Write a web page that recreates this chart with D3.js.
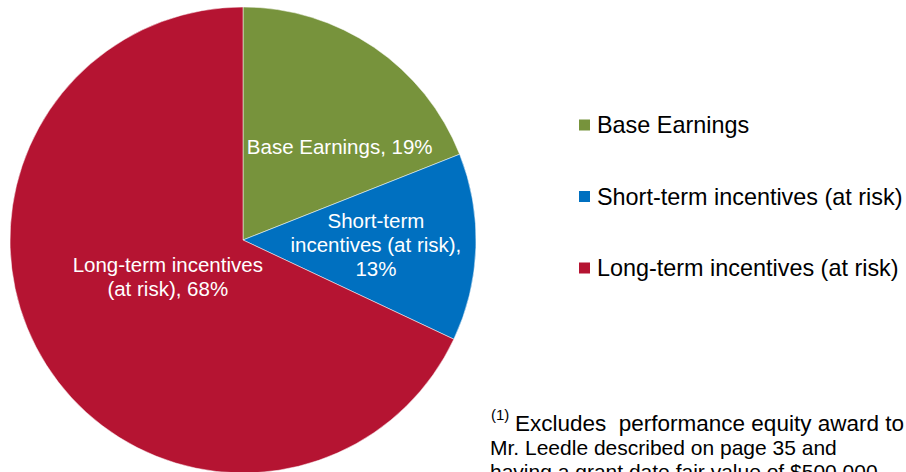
<!DOCTYPE html>
<html lang="en">
<head>
<meta charset="UTF-8">
<title>Compensation Mix</title>
<script src="https://d3js.org/d3.v7.min.js"></script>
<style>
  body { margin: 0; background: #fff; font-family: "Liberation Sans", Arial, sans-serif; }
  text { white-space: pre; }
</style>
</head>
<body>
<div id="chart"></div>
<script>
// Data
const categories = ["Base Earnings", "Short-term incentives (at risk)", "Long-term incentives (at risk)"];
const values = [19, 13, 68];
const colors = ["#77933C", "#0070C0", "#B51432"];
const sliceLabels = [
  ["Base Earnings, 19%"],
  ["Short-term", "incentives (at risk),", "13%"],
  ["Long-term incentives", "(at risk), 68%"]
];
const footnote = ["Excludes  performance equity award to", "Mr. Leedle described on page 35 and", "having a grant date fair value of $500,000"];

const width = 906, height = 472;
const cx = 243, cy = 240, radius = 233;

const svg = d3.select("#chart").append("svg")
  .attr("width", width).attr("height", height);

const pie = d3.pie().sort(null).value(d => d);
const arcs = pie(values);
const arc = d3.arc().innerRadius(0).outerRadius(radius);

const g = svg.append("g").attr("transform", `translate(${cx},${cy})`);

g.selectAll("path.slice")
  .data(arcs)
  .enter().append("path")
  .attr("class", "slice")
  .attr("d", arc)
  .attr("fill", (d, i) => colors[i])
  .attr("stroke", "#fff")
  .attr("stroke-width", 0.5);

// label placement: angle shift (deg) from slice mid-angle, distance from centre
const labelPlace = [[12, 134], [0.5, 133], [6, 84]];
const lineH = 24;
arcs.forEach((d, i) => {
  const mid = (d.startAngle + d.endAngle) / 2 + labelPlace[i][0] * Math.PI / 180;
  const [x, y] = d3.pointRadial(mid, labelPlace[i][1]);
  const lines = sliceLabels[i];
  const t = g.append("text")
    .attr("text-anchor", "middle")
    .attr("fill", "#fff")
    .attr("font-size", 20.5);
  lines.forEach((l, j) => {
    t.append("tspan")
      .attr("x", x)
      .attr("y", y + (j - (lines.length - 1) / 2) * lineH + 7)
      .text(l);
  });
});

// Legend
const legend = svg.append("g").attr("transform", "translate(579,125)");
categories.forEach((c, i) => {
  const row = legend.append("g").attr("transform", `translate(0,${i * 71.5})`);
  row.append("rect").attr("x", 0).attr("y", -5.5).attr("width", 11).attr("height", 11).attr("fill", colors[i]);
  row.append("text").attr("x", 18).attr("y", 8).attr("font-size", 23.4).attr("fill", "#000").text(c);
});

// Footnote
const fn = svg.append("text").attr("font-size", 22.5).attr("fill", "#000");
fn.append("tspan").attr("x", 491).attr("y", 420).attr("font-size", 15).text("(1)");
fn.append("tspan").attr("x", 515).attr("y", 431).text(footnote[0]);
footnote.slice(1).forEach((l, j) => {
  svg.append("text").attr("font-size", 21).attr("fill", "#000")
    .attr("x", 490).attr("y", 455 + j * 24).text(l);
});
</script>
</body>
</html>
